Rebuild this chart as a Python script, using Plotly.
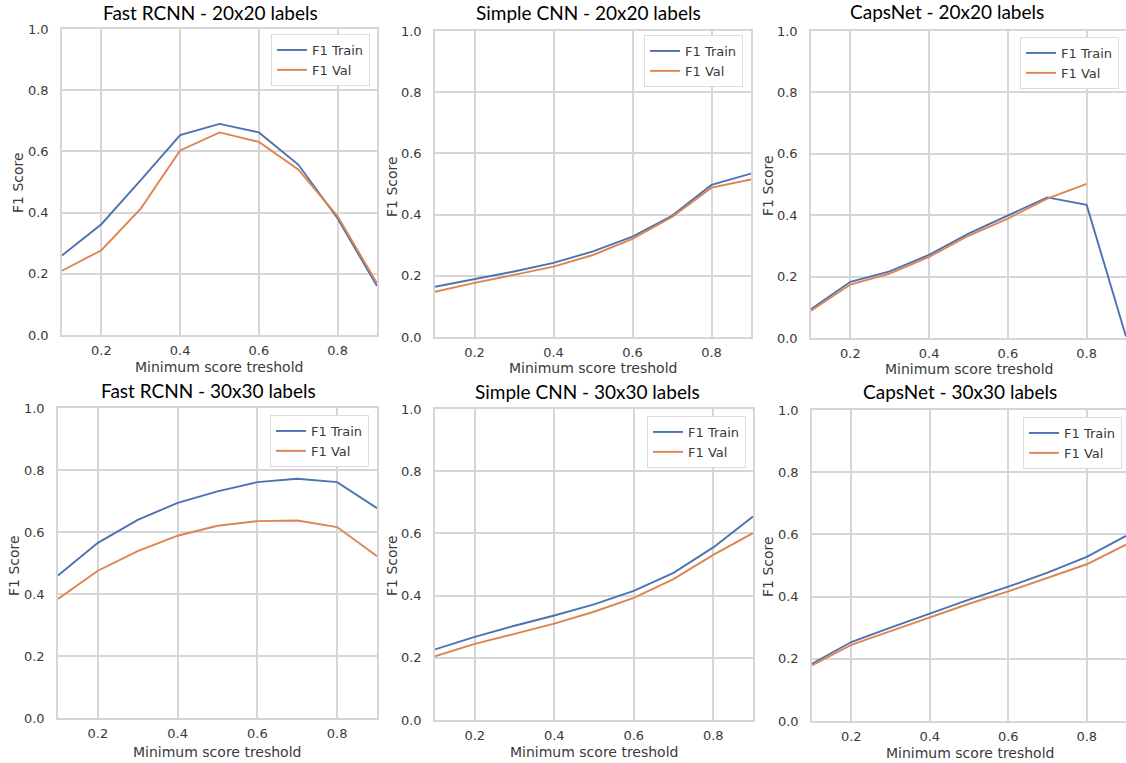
import plotly.graph_objects as go

W, H = 1126, 763

thresholds = [0.1, 0.2, 0.3, 0.4, 0.5, 0.6, 0.7, 0.8, 0.9]

frcnn20_train = [0.260, 0.362, 0.506, 0.653, 0.690, 0.662, 0.557, 0.381, 0.160]
frcnn20_val   = [0.210, 0.277, 0.413, 0.603, 0.662, 0.631, 0.541, 0.388, 0.169]

cnn20_train = [0.164, 0.189, 0.214, 0.242, 0.280, 0.328, 0.396, 0.497, 0.534]
cnn20_val   = [0.148, 0.177, 0.203, 0.230, 0.268, 0.321, 0.392, 0.488, 0.515]

caps20_train = [0.094, 0.183, 0.217, 0.271, 0.340, 0.398, 0.458, 0.434, 0.005]
caps20_val   = [0.089, 0.174, 0.210, 0.264, 0.333, 0.389, 0.454, 0.502, None]

frcnn30_train = [0.460, 0.565, 0.639, 0.694, 0.731, 0.761, 0.772, 0.761, 0.677]
frcnn30_val   = [0.384, 0.475, 0.538, 0.588, 0.620, 0.635, 0.637, 0.616, 0.522]

cnn30_train = [0.227, 0.267, 0.303, 0.336, 0.372, 0.415, 0.473, 0.555, 0.654]
cnn30_val   = [0.205, 0.245, 0.277, 0.310, 0.348, 0.393, 0.453, 0.531, 0.601]

caps30_train = [0.184, 0.254, 0.300, 0.346, 0.390, 0.432, 0.477, 0.528, 0.595]
caps30_val   = [0.179, 0.245, 0.289, 0.333, 0.377, 0.417, 0.460, 0.504, 0.567]

titles = ["Fast RCNN - 20x20 labels", "Simple CNN - 20x20 labels", "CapsNet - 20x20 labels",
          "Fast RCNN - 30x30 labels", "Simple CNN - 30x30 labels", "CapsNet - 30x30 labels"]
series = [(frcnn20_train, frcnn20_val), (cnn20_train, cnn20_val), (caps20_train, caps20_val),
          (frcnn30_train, frcnn30_val), (cnn30_train, cnn30_val), (caps30_train, caps30_val)]
x_ticks = [0.2, 0.4, 0.6, 0.8]
y_ticks = [0.0, 0.2, 0.4, 0.6, 0.8, 1.0]
x_label = "Minimum score treshold"
y_label = "F1 Score"
names = ["F1 Train", "F1 Val"]

# pixel layout: (left, right, top, bottom)
boxes = [(62, 377, 29, 335), (435, 751, 31, 337), (811, 1126, 31, 338),
         (58, 377, 408, 718), (435, 753, 409, 720), (812, 1126, 410, 721)]
legend_tr = [(370, 34), (743, 35), (1119, 37), (369, 415), (746, 416), (1122, 417)]
title_pos = [(210, 13), (588, 13), (947, 12), (208, 390), (587, 391), (960, 391)]
ytitle_pos = [(18, 183), (392, 187), (768, 186), (14, 566), (392, 566), (768, 567)]
xtitle_pos = [(219, 367), (593, 368), (969, 369), (217, 752), (594, 752), (970, 753)]

BLUE = "#4C72B0"
ORANGE = "#DD8452"
GRID = "#d6d6d6"
TXT = "#3a3a3a"
TICKFONT = dict(family="DejaVu Sans", size=13, color=TXT)

def px(x):
    return x / W

def py(y):
    return 1 - y / H

fig = go.Figure()
layout = dict(width=W, height=H, margin=dict(l=0, r=0, t=0, b=0, autoexpand=False),
              paper_bgcolor="white", plot_bgcolor="white", annotations=[],
              template="none")

for i, ((tr, va), (l, r, t, b)) in enumerate(zip(series, boxes)):
    n = i + 1
    xa = "x" if n == 1 else f"x{n}"
    ya = "y" if n == 1 else f"y{n}"
    lg = "legend" if n == 1 else f"legend{n}"
    fig.add_trace(go.Scatter(x=thresholds, y=tr, mode="lines", name=names[0],
                             line=dict(color=BLUE, width=1.9), xaxis=xa, yaxis=ya,
                             legend=lg))
    fig.add_trace(go.Scatter(x=thresholds, y=va, mode="lines", name=names[1],
                             line=dict(color=ORANGE, width=1.9), xaxis=xa, yaxis=ya,
                             legend=lg))
    xkey = "xaxis" if n == 1 else f"xaxis{n}"
    ykey = "yaxis" if n == 1 else f"yaxis{n}"
    layout[xkey] = dict(domain=[px(l), px(r)], range=[0.1, 0.9], anchor=ya,
                        tickvals=x_ticks, tickformat=".1f", showgrid=True,
                        gridcolor=GRID, gridwidth=1.5, showline=True, mirror=True,
                        linecolor=GRID, linewidth=1.5, zeroline=False, ticks="",
                        tickfont=TICKFONT, ticklabelstandoff=3, fixedrange=True,
                        automargin=False)
    layout[ykey] = dict(domain=[py(b), py(t)], range=[0, 1], anchor=xa,
                        tickvals=y_ticks, tickformat=".1f", showgrid=True,
                        gridcolor=GRID, gridwidth=1.5, showline=True, mirror=True,
                        linecolor=GRID, linewidth=1.5, zeroline=False, ticks="",
                        tickfont=TICKFONT, ticklabelstandoff=9, fixedrange=True,
                        automargin=False)
    lx, ly = legend_tr[i]
    layout[lg] = dict(x=px(lx), y=py(ly), xanchor="right", yanchor="top",
                      bgcolor="white", bordercolor="#dcdcdc", borderwidth=1,
                      font=dict(family="DejaVu Sans", size=13, color=TXT),
                      tracegroupgap=0)
    tx, ty = title_pos[i]
    layout["annotations"].append(dict(text=titles[i], x=px(tx), y=py(ty), xref="paper",
                                      yref="paper", showarrow=False, xanchor="center",
                                      yanchor="middle",
                                      font=dict(family="Lato", size=19, color="black")))
    yx, yy = ytitle_pos[i]
    layout["annotations"].append(dict(text=y_label, x=px(yx), y=py(yy), xref="paper",
                                      yref="paper", showarrow=False, xanchor="center",
                                      yanchor="middle", textangle=-90,
                                      font=dict(family="DejaVu Sans", size=14, color=TXT)))
    xx, xy = xtitle_pos[i]
    layout["annotations"].append(dict(text=x_label, x=px(xx), y=py(xy), xref="paper",
                                      yref="paper", showarrow=False, xanchor="center",
                                      yanchor="middle",
                                      font=dict(family="DejaVu Sans", size=14, color=TXT)))

fig.update_layout(**layout)
fig.write_html("out.html", config={"displayModeBar": False},
               post_script="document.body.style.margin='0';document.body.style.overflow='hidden';")
